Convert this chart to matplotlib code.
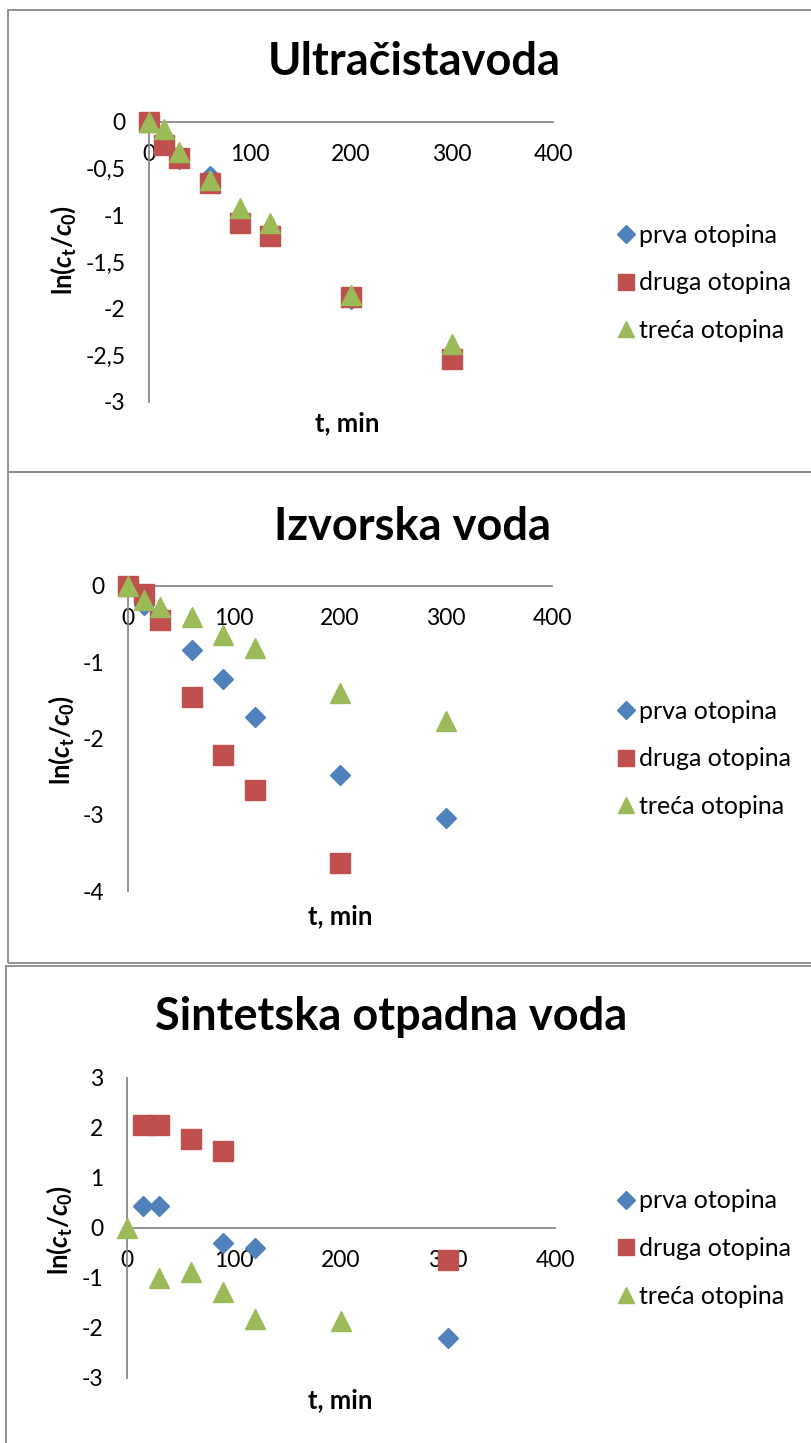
import matplotlib
matplotlib.use("Agg")
import matplotlib.pyplot as plt
from matplotlib.patches import Rectangle
from matplotlib.ticker import FuncFormatter, FixedLocator
from matplotlib.lines import Line2D

# --- data -------------------------------------------------------------
titles = ["Ultračistavoda", "Izvorska voda", "Sintetska otpadna voda"]
series_names = ["prva otopina", "druga otopina", "treća otopina"]
x_ticks = [0, 100, 200, 300, 400]

# Ultračista voda
t_uv = [0, 15, 30, 60, 90, 120, 200, 300]
uv_prva = [0, -0.22, -0.40, -0.58, -1.03, -1.18, -1.90, -2.50]
uv_druga = [0, -0.25, -0.39, -0.65, -1.08, -1.22, -1.87, -2.54]
uv_treca = [0, -0.08, -0.32, -0.62, -0.92, -1.08, -1.85, -2.38]
uv_yticks = [0, -0.5, -1, -1.5, -2, -2.5, -3]

# Izvorska voda
t_iv = [0, 15, 30, 60, 90, 120, 200, 300]
t_iv_druga = [0, 15, 30, 60, 90, 120, 200]
iv_prva = [0, -0.25, -0.35, -0.84, -1.22, -1.72, -2.48, -3.04]
iv_druga = [0, -0.10, -0.45, -1.45, -2.21, -2.67, -3.63]
iv_treca = [0, -0.18, -0.27, -0.40, -0.64, -0.81, -1.40, -1.77]
iv_yticks = [0, -1, -2, -3, -4]

# Sintetska otpadna voda
t_so_prva = [15, 30, 90, 120, 300]
so_prva = [0.45, 0.45, -0.29, -0.39, -2.19]
t_so_druga = [15, 30, 60, 90, 300]
so_druga = [2.06, 2.07, 1.78, 1.54, -0.64]
t_so_treca = [0, 30, 60, 90, 120, 200]
so_treca = [0, -1.00, -0.87, -1.27, -1.81, -1.85]
so_yticks = [3, 2, 1, 0, -1, -2, -3]

# --- style ------------------------------------------------------------
W, H = 811, 1443
DPI = 100
FONT = "Lato"
plt.rcParams["font.family"] = [FONT, "DejaVu Sans"]
plt.rcParams["mathtext.fontset"] = "custom"
plt.rcParams["mathtext.rm"] = "Lato:bold"
plt.rcParams["mathtext.it"] = "Lato:bold:italic"
plt.rcParams["mathtext.bf"] = "Lato:bold"

BLUE, RED, GREEN = "#4F81BD", "#C0504D", "#9BBB59"
AXIS_GRAY = "#898989"
BORDER_GRAY = "#8a8a8a"
TICK_FS = 16.5
LEGEND_FS = 18
LABEL_FS = 18.5
TITLE_FS = 32.5

styles = [dict(marker="D", color=BLUE, ms=10.5),
          dict(marker="s", color=RED, ms=14),
          dict(marker="^", color=GREEN, ms=14)]

fig = plt.figure(figsize=(W / DPI, H / DPI), dpi=DPI)


def fx(px):
    return px / W


def fy(py):
    return 1 - py / H


def comma_fmt(v, pos=None):
    return f"{v:g}".replace(".", ",")


# panel frames (left, top, right, bottom) in pixels
frames = [(8, 10, 815, 472), (8, 472, 815, 963), (6, 966, 815, 1450)]
for (l, t, r, b) in frames:
    fig.add_artist(Rectangle((fx(l), fy(b)), fx(r - l), (b - t) / H,
                             transform=fig.transFigure, fill=False,
                             edgecolor=BORDER_GRAY, linewidth=1.3))

panels = [
    dict(title=titles[0], title_xy=(414, 62),
         box=(149, 553, 122, 402), ylim=(-3, 0), yticks=uv_yticks,
         series=[(t_uv, uv_prva), (t_uv, uv_druga), (t_uv, uv_treca)],
         ylabel_xy=(63, 250), xlabel_xy=(347, 423),
         legend_y=(236, 330)),
    dict(title=titles[1], title_xy=(412, 527),
         box=(128, 552, 586, 891), ylim=(-4, 0), yticks=iv_yticks,
         series=[(t_iv, iv_prva), (t_iv_druga, iv_druga), (t_iv, iv_treca)],
         ylabel_xy=(61, 740), xlabel_xy=(340, 916),
         legend_y=(712, 806)),
    dict(title=titles[2], title_xy=(391, 1017),
         box=(127, 555, 1078, 1378), ylim=(-3, 3), yticks=so_yticks,
         series=[(t_so_prva, so_prva), (t_so_druga, so_druga),
                 (t_so_treca, so_treca)],
         ylabel_xy=(59, 1230), xlabel_xy=(340, 1400),
         legend_y=(1199, 1298)),
]

for p in panels:
    left, right, top, bottom = p["box"]
    ax = fig.add_axes([fx(left), fy(bottom), (right - left) / W,
                       (bottom - top) / H])
    ax.patch.set_visible(False)
    ax.set_xlim(0, 400)
    ax.set_ylim(*p["ylim"])
    for spine in ("top", "right"):
        ax.spines[spine].set_visible(False)
    ax.spines["bottom"].set_position(("data", 0))
    ax.spines["left"].set_position(("data", 0))
    for spine in ("bottom", "left"):
        ax.spines[spine].set_color(AXIS_GRAY)
        ax.spines[spine].set_linewidth(1.3)
    ax.xaxis.set_major_locator(FixedLocator(x_ticks))
    ax.yaxis.set_major_locator(FixedLocator(p["yticks"]))
    ax.xaxis.set_major_formatter(FuncFormatter(comma_fmt))
    ax.yaxis.set_major_formatter(FuncFormatter(comma_fmt))
    ax.tick_params(axis="x", length=0, pad=16, labelsize=TICK_FS)
    ax.tick_params(axis="y", length=0, pad=17, labelsize=TICK_FS)

    for (xs, ys), st in zip(p["series"], styles):
        ax.plot(xs, ys, linestyle="none", marker=st["marker"],
                color=st["color"], markeredgecolor=st["color"],
                markersize=st["ms"], clip_on=False, zorder=3)

    tx, ty = p["title_xy"]
    fig.text(fx(tx), fy(ty), p["title"], ha="center", va="center",
             fontsize=TITLE_FS, fontweight="bold")
    lx, ly = p["ylabel_xy"]
    fig.text(fx(lx), fy(ly), r"ln($c_\mathrm{t}$/$c_\mathrm{0}$)",
             rotation=90, ha="center", va="center", fontsize=LABEL_FS,
             fontweight="bold")
    xx, xy = p["xlabel_xy"]
    fig.text(fx(xx), fy(xy), "t, min", ha="center", va="center",
             fontsize=LABEL_FS, fontweight="bold")

    handles = [Line2D([], [], linestyle="none", marker=st["marker"],
                      color=st["color"], markersize=st["ms"] * 0.85)
               for st in styles]
    y0, y2 = p["legend_y"]
    ax.legend(handles, series_names, loc="center left",
              bbox_to_anchor=(fx(618), fy((y0 + y2) / 2)),
              bbox_transform=fig.transFigure, frameon=False,
              fontsize=LEGEND_FS, handlelength=0.6, handletextpad=0.25,
              borderpad=0, borderaxespad=0, labelspacing=0.98)

fig.savefig("out.png", dpi=DPI)
